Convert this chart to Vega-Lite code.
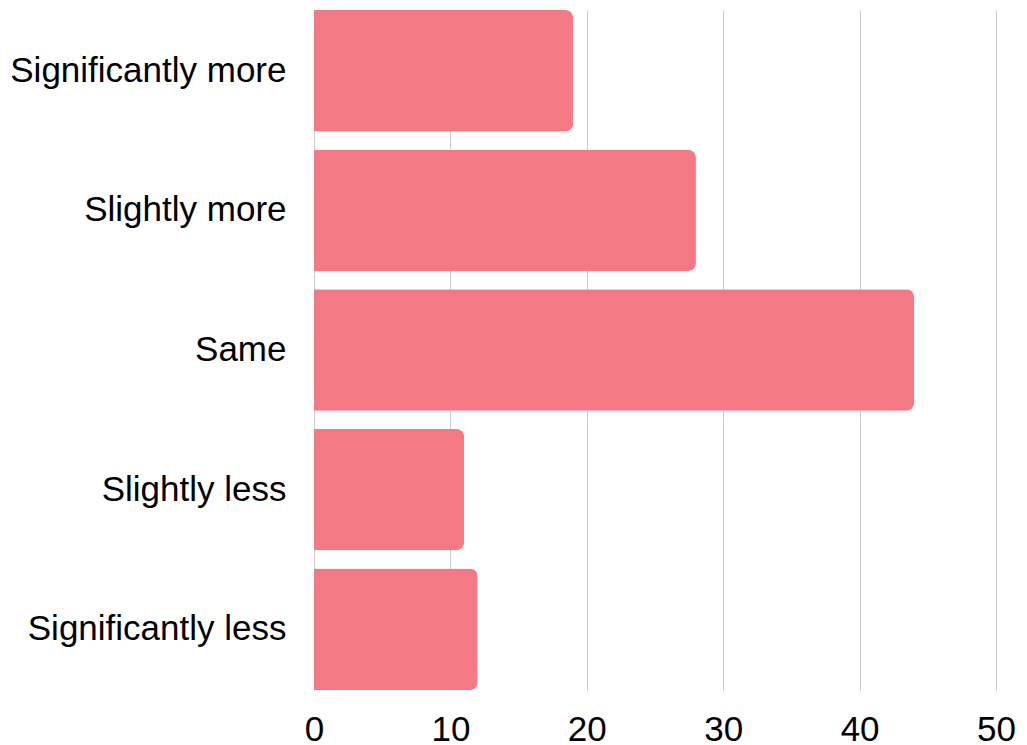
{
  "$schema": "https://vega.github.io/schema/vega-lite/v6.json",
  "autosize": {"type": "none"},
  "padding": {"left": 314, "top": 10, "right": 31, "bottom": 55},
  "width": 682,
  "height": 680,
  "data": {"values": [
    {"category": "Significantly more", "value": 19},
    {"category": "Slightly more", "value": 28},
    {"category": "Same", "value": 44},
    {"category": "Slightly less", "value": 11},
    {"category": "Significantly less", "value": 12}
  ]},
  "config": {"view": {"stroke": null}, "font": "Liberation Sans"},
  "mark": {"type": "bar", "color": "#F37A84", "cornerRadiusEnd": 8},
  "encoding": {
    "y": {"field": "category", "type": "nominal", "sort": null,
      "scale": {"paddingInner": 0.13, "paddingOuter": 0},
      "axis": {"title": null, "domain": false, "ticks": false, "grid": false, "labelFontSize": 35, "labelColor": "#000", "labelPadding": 28, "labelLimit": 400}},
    "x": {"field": "value", "type": "quantitative",
      "scale": {"domain": [0, 50]},
      "axis": {"title": null, "domain": false, "ticks": false, "grid": true, "gridColor": "#cccccc", "tickCount": 5, "labelFontSize": 35, "labelColor": "#000", "labelPadding": 22, "labelFlush": false}}
  }
}
